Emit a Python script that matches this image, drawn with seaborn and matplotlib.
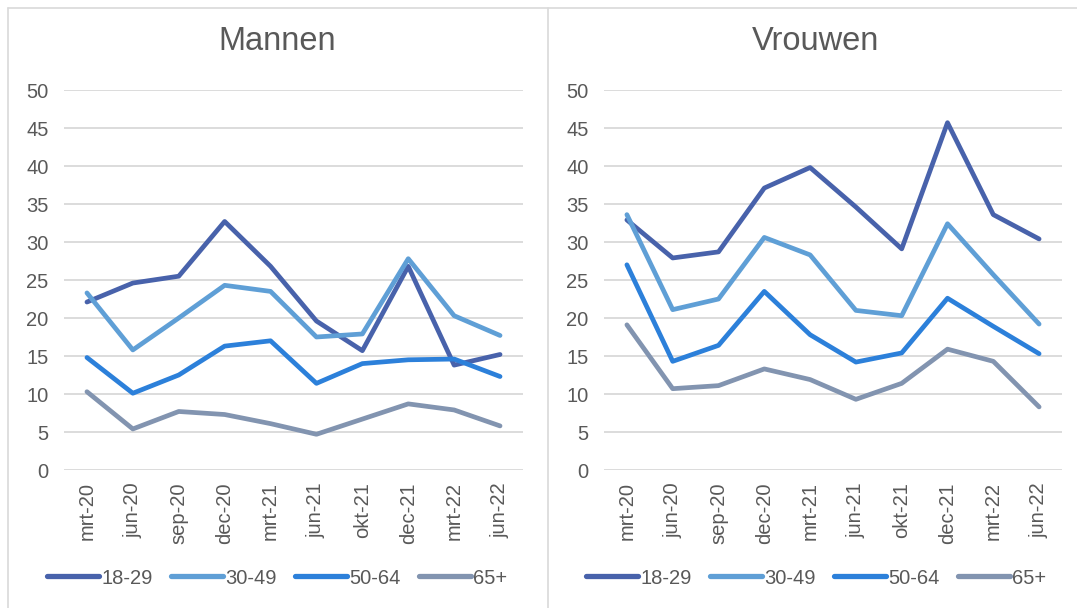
import numpy as np
import pandas as pd
import matplotlib
matplotlib.use("Agg")
import matplotlib.pyplot as plt
from matplotlib.lines import Line2D
import seaborn as sns

periods = ["mrt-20", "jun-20", "sep-20", "dec-20", "mrt-21", "jun-21", "okt-21", "dec-21", "mrt-22", "jun-22"]
groups = ["18-29", "30-49", "50-64", "65+"]

mannen_18_29 = [22.1, 24.6, 25.5, 32.7, 26.8, 19.6, 15.7, 26.8, 13.8, 15.2]
mannen_30_49 = [23.3, 15.8, 20.0, 24.3, 23.5, 17.5, 17.9, 27.8, 20.3, 17.7]
mannen_50_64 = [14.8, 10.1, 12.5, 16.3, 17.0, 11.4, 14.0, 14.5, 14.6, 12.3]
mannen_65 = [10.3, 5.4, 7.7, 7.3, 6.1, 4.7, 6.7, 8.7, 7.9, 5.8]

vrouwen_18_29 = [32.9, 27.9, 28.7, 37.1, 39.8, 34.6, 29.1, 45.7, 33.6, 30.4]
vrouwen_30_49 = [33.6, 21.1, 22.5, 30.6, 28.3, 21.0, 20.3, 32.4, 25.7, 19.2]
vrouwen_50_64 = [27.0, 14.3, 16.4, 23.5, 17.8, 14.2, 15.4, 22.6, 18.9, 15.3]
vrouwen_65 = [19.1, 10.7, 11.1, 13.3, 11.9, 9.3, 11.4, 15.9, 14.3, 8.3]

colors = ["#4862AB", "#5F9FD6", "#2C80DA", "#8294B0"]


def long_df(series_list):
    rows = []
    for g, vals in zip(groups, series_list):
        for i, (p, v) in enumerate(zip(periods, vals)):
            rows.append({"idx": i, "period": p, "groep": g, "waarde": v})
    return pd.DataFrame(rows)


df_m = long_df([mannen_18_29, mannen_30_49, mannen_50_64, mannen_65])
df_v = long_df([vrouwen_18_29, vrouwen_30_49, vrouwen_50_64, vrouwen_65])

sns.set_theme(style="white")
plt.rcParams['font.family'] = ['Liberation Sans', 'DejaVu Sans']

fig = plt.figure(figsize=(10.77, 6.08), dpi=100)
W, H = 1077, 608
gray_text = "#595959"

# (title, data, axes left px, axes right px, panel center px)
panels = [("Mannen", df_m, 64, 523, 277), ("Vrouwen", df_v, 604, 1062, 816)]
for title, df, left, right, center in panels:
    ax = fig.add_axes([left / W, 1 - 470 / H, (right - left) / W, 380 / H])
    sns.lineplot(data=df, x="idx", y="waarde", hue="groep", hue_order=groups,
                 palette=colors, linewidth=3.4, ax=ax, legend=False, sort=False)
    ax.set_ylim(0, 50)
    ax.set_xlim(-0.5, len(periods) - 0.5)
    ax.set_yticks(np.arange(0, 51, 5))
    ax.set_xticks(range(len(periods)))
    ax.set_xticklabels(periods, rotation=90)
    ax.tick_params(axis="y", colors=gray_text, labelsize=14.5, length=0, pad=11)
    ax.tick_params(axis="x", colors=gray_text, labelsize=14.5, length=0, pad=9)
    ax.grid(axis="y", color="#D9D9D9", linewidth=1.3)
    ax.set_axisbelow(True)
    for s in ax.spines.values():
        s.set_visible(False)
    ax.set_xlabel("")
    ax.set_ylabel("")
    fig.text(center / W, 1 - 42 / H, title, fontsize=23.5, color=gray_text,
             ha="center", va="center")
    handles = [Line2D([], [], color=c, linewidth=3.8, solid_capstyle="round") for c in colors]
    ax.legend(handles, groups, loc="center",
              bbox_to_anchor=((center - left) / (right - left), (470 - 578) / 380),
              ncol=4, frameon=False, fontsize=14.5, handlelength=2.6, handletextpad=0.1,
              columnspacing=0.9, labelcolor=gray_text)

# panel borders
bc = "#D9D9D9"
fig.add_artist(Line2D([8 / W, 8 / W], [0, 1 - 8 / H], color=bc, linewidth=1.2))
fig.add_artist(Line2D([548 / W, 548 / W], [0, 1 - 8 / H], color=bc, linewidth=1.2))
fig.add_artist(Line2D([8 / W, 1.0], [1 - 8 / H, 1 - 8 / H], color=bc, linewidth=1.2))

fig.savefig("out.png", dpi=100)
